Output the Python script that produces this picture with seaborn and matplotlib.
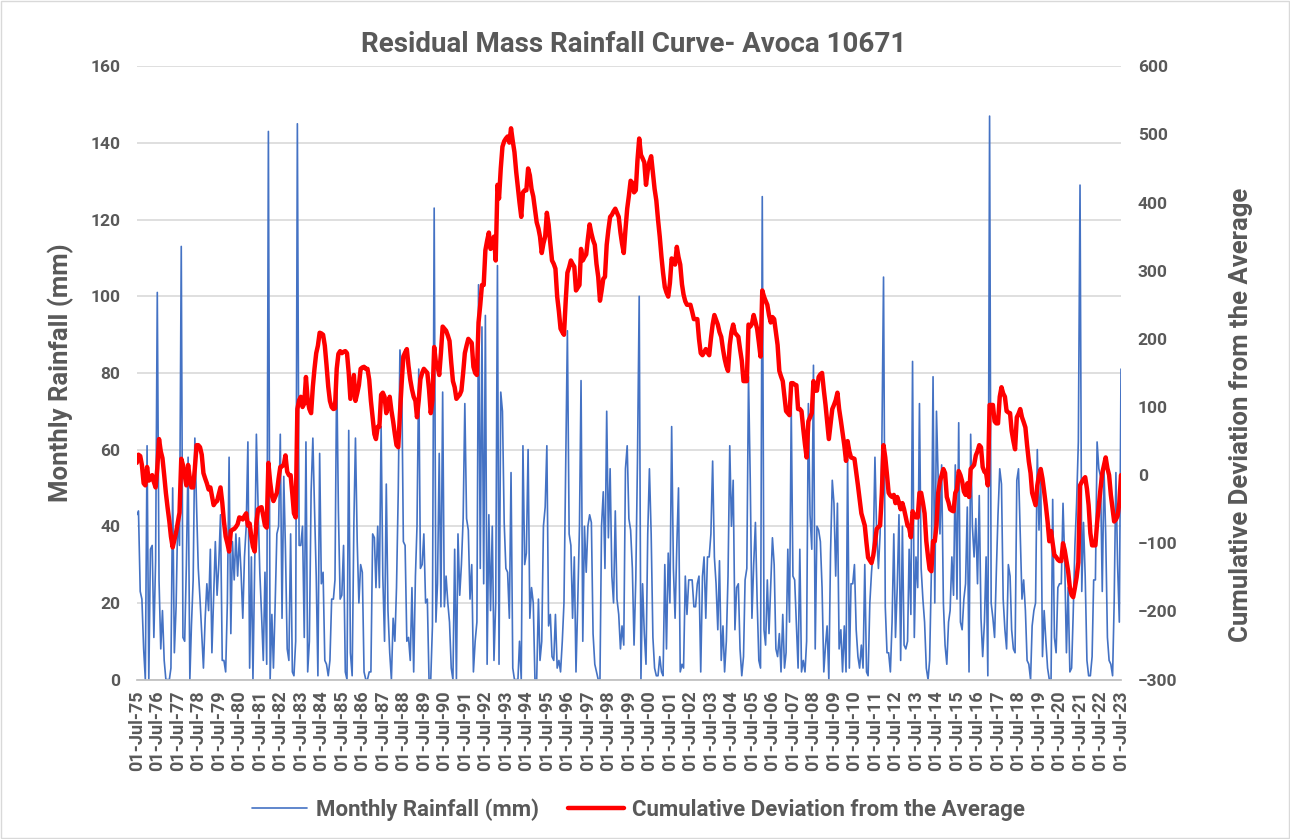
import pandas as pd
import matplotlib.pyplot as plt
import matplotlib.dates as mdates
import matplotlib.patches as patches
import seaborn as sns

# monthly rainfall (mm), one row per year starting July 1975
rain = [
    43, 44, 23, 21, 8, 0, 61, 0, 34, 35, 11, 31,
    101, 26, 8, 18, 5, 0, 0, 0, 3, 50, 7, 19,
    43, 35, 113, 11, 10, 30, 58, 0, 14, 26, 63, 45,
    29, 21, 12, 3, 16, 25, 18, 34, 7, 22, 36, 22,
    30, 43, 5, 5, 2, 20, 58, 12, 36, 26, 38, 27,
    37, 28, 16, 32, 40, 62, 3, 32, 0, 30, 64, 45,
    28, 17, 5, 28, 4, 143, 0, 17, 3, 20, 38, 40,
    64, 16, 53, 34, 8, 5, 38, 2, 1, 10, 145, 35,
    35, 40, 11, 62, 2, 10, 49, 63, 45, 27, 1, 59,
    25, 28, 5, 4, 1, 5, 21, 21, 26, 81, 44, 21,
    22, 35, 2, 0, 65, 7, 1, 41, 63, 36, 20, 30,
    28, 2, 0, 0, 2, 2, 38, 37, 24, 40, 24, 66,
    27, 10, 51, 18, 7, 0, 16, 10, 24, 49, 86, 80,
    36, 35, 10, 11, 5, 24, 2, 27, 40, 81, 29, 30,
    38, 20, 21, 0, 0, 14, 123, 15, 25, 59, 19, 75,
    19, 27, 20, 15, 3, 0, 34, 0, 38, 22, 30, 42,
    72, 42, 39, 21, 30, 2, 10, 15, 103, 29, 92, 25,
    95, 4, 43, 18, 40, 5, 20, 108, 4, 75, 70, 41,
    29, 28, 16, 54, 3, 0, 0, 0, 10, 0, 61, 30,
    33, 60, 16, 24, 20, 0, 0, 21, 5, 10, 40, 45,
    61, 14, 17, 6, 5, 17, 3, 5, 2, 10, 20, 57,
    91, 38, 35, 16, 32, 2, 20, 40, 78, 10, 40, 28,
    40, 43, 41, 12, 4, 2, 0, 0, 40, 49, 29, 70,
    37, 55, 27, 20, 44, 21, 17, 8, 14, 9, 55, 61,
    42, 39, 29, 9, 26, 57, 100, 0, 25, 12, 4, 38,
    55, 38, 11, 3, 1, 1, 6, 2, 1, 30, 8, 33,
    20, 66, 29, 16, 35, 50, 2, 4, 3, 27, 17, 26,
    26, 26, 19, 19, 25, 27, 2, 27, 32, 16, 32, 32,
    38, 57, 32, 25, 13, 31, 5, 14, 2, 10, 27, 61,
    40, 52, 13, 24, 25, 8, 1, 6, 26, 29, 79, 52,
    16, 30, 41, 21, 5, 3, 126, 13, 9, 26, 12, 25,
    37, 30, 8, 6, 12, 2, 17, 3, 7, 34, 15, 71,
    27, 26, 14, 3, 34, 2, 5, 2, 10, 72, 43, 34,
    82, 8, 40, 39, 36, 24, 2, 9, 14, 0, 33, 52,
    46, 27, 46, 8, 13, 2, 14, 2, 58, 3, 25, 25,
    30, 13, 6, 3, 9, 3, 30, 2, 1, 20, 28, 34,
    58, 38, 29, 38, 61, 105, 19, 7, 7, 2, 15, 38,
    11, 24, 43, 5, 40, 9, 8, 10, 34, 17, 83, 11,
    32, 24, 72, 29, 21, 15, 3, 0, 5, 28, 79, 20,
    70, 52, 38, 56, 20, 9, 4, 15, 18, 32, 22, 56,
    21, 67, 15, 13, 21, 25, 45, 2, 64, 40, 32, 42,
    25, 48, 16, 6, 15, 32, 1, 147, 20, 16, 11, 28,
    43, 55, 51, 21, 13, 8, 30, 27, 13, 8, 7, 52,
    55, 38, 21, 26, 18, 5, 4, 0, 14, 18, 20, 60,
    39, 54, 6, 18, 10, 3, 0, 0, 47, 11, 7, 24,
    25, 25, 46, 31, 7, 24, 2, 3, 17, 35, 46, 62,
    129, 23, 41, 27, 5, 1, 1, 6, 26, 26, 62, 55,
    53, 23, 55, 38, 11, 5, 4, 1, 20, 54, 30, 15,
    81,
]

# cumulative deviation from the average, same months
cum_dev = [
    18, 30, 28, 15, -12, -15, 12, -8, -6, 0, -10, -18,
    10, 53, 35, 25, 0, -26, -48, -68, -90, -106, -95, -84,
    -70, -55, 24, 15, 0, -15, 15, -5, -18, -18, 10, 44,
    44, 41, 30, 3, -5, -12, -21, -18, -30, -44, -40, -38,
    -28, -18, -40, -68, -90, -100, -112, -82, -80, -79, -76, -72,
    -62, -63, -65, -60, -56, -74, -71, -91, -105, -112, -70, -50,
    -48, -47, -60, -74, -77, 18, -10, -30, -38, -32, -26, -5,
    12, 13, 15, 29, 5, 0, 0, -28, -56, -62, 97, 110,
    115, 100, 105, 144, 110, 97, 91, 130, 156, 179, 190, 209,
    208, 206, 190, 162, 130, 109, 100, 97, 98, 156, 178, 182,
    179, 181, 182, 179, 150, 112, 130, 147, 109, 120, 132, 156,
    158, 159, 156, 156, 140, 109, 85, 60, 53, 71, 71, 118,
    121, 115, 91, 100, 115, 95, 79, 60, 44, 41, 90, 135,
    174, 180, 185, 160, 140, 126, 115, 109, 85, 110, 141, 150,
    156, 153, 150, 126, 91, 110, 188, 165, 160, 147, 179, 218,
    215, 212, 205, 197, 165, 138, 129, 112, 115, 118, 124, 150,
    179, 190, 200, 197, 194, 159, 150, 147, 224, 250, 279, 279,
    330, 344, 356, 332, 340, 350, 315, 426, 406, 450, 482, 490,
    494, 497, 488, 509, 490, 474, 445, 421, 400, 379, 415, 418,
    418, 450, 440, 420, 409, 390, 371, 362, 350, 326, 340, 350,
    385, 368, 340, 315, 310, 303, 262, 240, 215, 210, 206, 256,
    297, 305, 315, 310, 306, 271, 275, 279, 332, 315, 320, 324,
    347, 368, 355, 345, 338, 310, 291, 256, 270, 288, 291, 338,
    360, 379, 382, 387, 391, 385, 379, 356, 340, 326, 360, 391,
    410, 432, 429, 415, 418, 462, 494, 470, 465, 459, 426, 447,
    460, 468, 444, 420, 403, 375, 350, 320, 297, 276, 268, 262,
    282, 318, 312, 309, 335, 320, 309, 280, 265, 255, 250, 250,
    250, 240, 229, 229, 229, 200, 179, 176, 180, 185, 180, 176,
    200, 221, 235, 228, 221, 210, 203, 185, 171, 160, 153, 191,
    210, 221, 209, 206, 203, 185, 168, 138, 138, 138, 221, 218,
    222, 235, 225, 215, 195, 174, 271, 262, 256, 250, 235, 224,
    232, 229, 210, 191, 153, 145, 138, 115, 94, 91, 88, 135,
    135, 133, 132, 97, 97, 94, 68, 45, 26, 79, 85, 91,
    138, 124, 124, 144, 148, 150, 125, 103, 79, 53, 75, 97,
    103, 110, 121, 97, 80, 62, 44, 21, 50, 35, 26, 25,
    24, 5, -15, -35, -56, -65, -74, -100, -121, -125, -129, -118,
    -100, -79, -76, -74, -26, 44, 26, 0, -26, -30, -32, -29,
    -41, -32, -40, -50, -41, -50, -62, -74, -77, -91, -53, -58,
    -62, -62, -26, -26, -40, -56, -97, -120, -138, -141, -97, -97,
    -74, -26, -9, 0, 9, 3, -32, -40, -50, -52, -53, -26,
    -21, 6, 0, -9, -24, -29, -12, -32, 9, 12, 15, 29,
    35, 44, 41, 12, 5, 3, -15, 103, 103, 103, 79, 76,
    76, 115, 129, 120, 115, 94, 92, 91, 65, 50, 38, 85,
    90, 97, 85, 78, 70, 44, 20, 3, -26, -35, -44, -15,
    0, 9, -5, -24, -45, -68, -97, -82, -100, -118, -120, -124,
    -126, -126, -100, -110, -126, -141, -165, -176, -179, -165, -150, -128,
    -15, -10, -6, -3, -20, -44, -85, -103, -103, -103, -70, -44,
    -20, 3, 15, 26, 10, 0, -29, -50, -68, -65, -60, -41,
    0,
]

title = 'Residual Mass Rainfall Curve- Avoca 10671'
rain_label = 'Monthly Rainfall (mm)'
dev_label = 'Cumulative Deviation from the Average'

dates = pd.date_range('1975-07-01', periods=len(rain), freq='MS')
df = pd.DataFrame({'Date': dates, 'Rain': rain, 'Dev': cum_dev})

sns.set_theme(style='white')
plt.rcParams['font.family'] = ['Roboto', 'DejaVu Sans']
grey = '#595959'

fig, ax = plt.subplots(figsize=(12.9, 8.39), dpi=100)
fig.subplots_adjust(left=0.106, right=0.869, top=0.921, bottom=0.19)

sns.lineplot(data=df, x='Date', y='Rain', ax=ax, color='#4472C4', lw=1.2)
ax2 = ax.twinx()
sns.lineplot(data=df, x='Date', y='Dev', ax=ax2, color='#FF0000', lw=3.2)

ax.set_xlim(dates[0], dates[-1])
ax.set_ylim(0, 160)
ax.set_yticks(range(0, 161, 20))
ax2.set_ylim(-300, 600)
ax2.set_yticks(range(-300, 601, 100))

ax.xaxis.set_major_locator(mdates.MonthLocator(bymonth=7, bymonthday=1))
ax.xaxis.set_major_formatter(mdates.DateFormatter('%d-%b-%y'))
plt.setp(ax.get_xticklabels(), rotation=90)

ax.grid(axis='y', color='#d9d9d9', lw=1.2)
ax.grid(axis='x', visible=False)
ax2.grid(False)
ax.set_axisbelow(True)

for a in (ax, ax2):
    for s in a.spines.values():
        s.set_visible(False)
ax.spines['bottom'].set_visible(True)
ax.spines['bottom'].set_color('#bfbfbf')

ax.tick_params(axis='x', length=5, color='#bfbfbf', labelsize=13, labelcolor=grey, pad=3)
ax.tick_params(axis='y', length=0, labelsize=12.5, labelcolor=grey, pad=12)
ax2.tick_params(axis='y', length=0, labelsize=12.5, labelcolor=grey, pad=12)
for lab in ax.get_xticklabels() + ax.get_yticklabels() + ax2.get_yticklabels():
    lab.set_fontweight('bold')

ax.set_xlabel('')
ax.set_ylabel(rain_label, fontsize=18.5, fontweight='bold', color=grey)
ax2.set_ylabel(dev_label, fontsize=18.5, fontweight='bold', color=grey)
ax.yaxis.set_label_coords(-0.064, 0.5)
ax2.yaxis.set_label_coords(1.11, 0.432)

fig.text(0.491, 0.947, title, ha='center', va='center', fontsize=20,
         fontweight='bold', color=grey)

fig.legend(handles=[ax.lines[0], ax2.lines[0]], labels=[rain_label, dev_label],
           loc='center', bbox_to_anchor=(0.495, 0.035), ncol=2, frameon=False,
           handlelength=2.5, handletextpad=0.4, columnspacing=1.3,
           prop={'size': 16, 'weight': 'bold'}, labelcolor=grey)

fig.patches.append(patches.Rectangle((0.001, 0.001), 0.998, 0.998, transform=fig.transFigure,
                                     fill=False, edgecolor='#d9d9d9', lw=1))

plt.savefig('out.png', dpi=100)
